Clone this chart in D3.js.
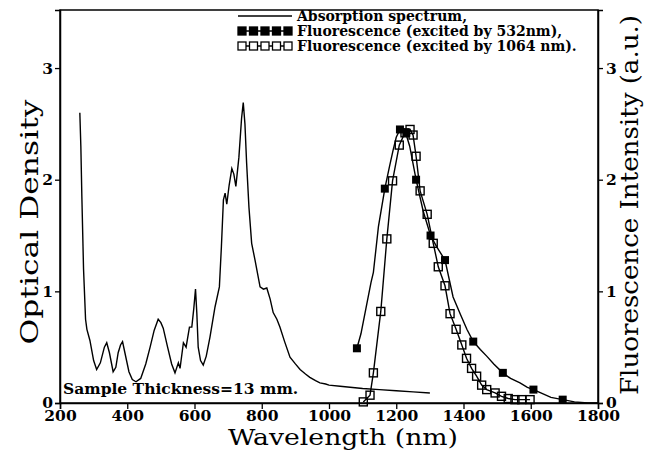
<!DOCTYPE html>
<html>
<head>
<meta charset="utf-8">
<script src="https://cdnjs.cloudflare.com/ajax/libs/d3/7.8.5/d3.min.js"></script>
<style>
body { margin: 0; background: #fff; }
</style>
</head>
<body>
<div id="chart"></div>
<script>
// absorption spectrum: [wavelength nm, optical density]
var absorption = [
  [259, 2.60], [262, 2.30], [265, 1.85], [270, 1.20], [276, 0.75], [280, 0.66],
  [289, 0.56], [300, 0.38], [309, 0.30], [320, 0.36], [332, 0.50], [339, 0.54],
  [347, 0.45], [358, 0.28], [366, 0.32], [373, 0.45], [380, 0.52], [386, 0.55],
  [393, 0.45], [405, 0.28], [415, 0.21], [426, 0.19], [440, 0.22], [455, 0.35],
  [468, 0.50], [480, 0.65], [492, 0.75], [500, 0.72], [507, 0.67], [520, 0.50],
  [532, 0.35], [542, 0.27], [552, 0.36], [557, 0.31], [567, 0.54], [575, 0.50],
  [585, 0.68], [592, 0.68], [598, 0.85], [603, 1.02], [607, 0.80], [611, 0.50],
  [618, 0.38], [626, 0.34], [635, 0.42], [646, 0.59], [661, 0.86], [674, 1.04],
  [680, 1.40], [686, 1.82], [691, 1.88], [696, 1.78], [703, 1.95], [711, 2.10],
  [717, 2.05], [723, 1.94], [732, 2.20], [740, 2.55], [745, 2.69], [750, 2.50],
  [755, 2.15], [762, 1.75], [770, 1.43], [780, 1.28], [795, 1.04], [805, 1.02],
  [815, 1.03], [825, 0.93], [834, 0.81], [845, 0.75], [854, 0.68], [868, 0.55],
  [884, 0.41], [900, 0.35], [914, 0.30], [930, 0.26], [943, 0.23], [960, 0.20],
  [973, 0.18], [990, 0.17], [1000, 0.16], [1033, 0.15], [1100, 0.13], [1150, 0.12],
  [1200, 0.11], [1250, 0.10], [1300, 0.09]
];

// fluorescence excited by 532 nm: measured curve and the filled markers on it
var fl532 = [
  [1083, 0.49], [1095, 0.62], [1110, 0.85], [1125, 1.08], [1132, 1.17], [1147, 1.58],
  [1166, 1.92], [1180, 2.12], [1191, 2.27], [1200, 2.38], [1211, 2.45], [1225, 2.45],
  [1240, 2.30], [1259, 2.00], [1280, 1.72], [1302, 1.50], [1320, 1.40], [1345, 1.28],
  [1369, 0.95], [1390, 0.80], [1410, 0.66], [1429, 0.55], [1450, 0.48], [1469, 0.42],
  [1490, 0.35], [1517, 0.27], [1540, 0.22], [1568, 0.18], [1590, 0.14], [1608, 0.12],
  [1630, 0.09], [1660, 0.05], [1695, 0.03], [1730, 0.01], [1770, 0.00], [1800, 0.00]
];
var fl532Marks = [
  [1083, 0.49], [1166, 1.92], [1211, 2.45], [1230, 2.42], [1259, 2.00], [1302, 1.50],
  [1345, 1.28], [1429, 0.55], [1517, 0.27], [1608, 0.12], [1695, 0.03]
];

// fluorescence excited by 1064 nm (open markers on every point)
var fl1064 = [
  [1102, 0.01], [1122, 0.07], [1132, 0.27], [1154, 0.82], [1172, 1.47], [1189, 1.99],
  [1209, 2.31], [1226, 2.42], [1241, 2.45], [1250, 2.40], [1259, 2.21], [1271, 1.90],
  [1292, 1.69], [1310, 1.43], [1325, 1.22], [1345, 1.05], [1360, 0.80], [1378, 0.66],
  [1395, 0.52], [1409, 0.40], [1424, 0.31], [1439, 0.24], [1454, 0.16], [1469, 0.12],
  [1494, 0.09], [1513, 0.06], [1533, 0.04], [1553, 0.03], [1573, 0.03], [1598, 0.03]
];

var xTicks = [200, 400, 600, 800, 1000, 1200, 1400, 1600, 1800];
var yTicks = [0, 1, 2, 3];
var legendLabels = [
  "Absorption spectrum,",
  "Fluorescence (excited by 532nm),",
  "Fluorescence (excited by 1064 nm)."
];
var note = "Sample Thickness=13 mm.";

function drawChart() {
  var w = 660;
  var h = 451;
  var pLeft = 60, pRight = 598, pTop = 10, pBottom = 403;
  var serif = "'DejaVu Serif', serif";

  var svg = d3.select("#chart")
    .append("svg")
    .attr("width", w)
    .attr("height", h);

  var xScale = d3.scaleLinear().domain([200, 1800]).range([pLeft, pRight]);
  var yLeft = d3.scaleLinear().domain([0, 3.52]).range([pBottom, pTop]);
  var yRight = d3.scaleLinear().domain([0, 3.52]).range([pBottom, pTop]);

  // frame
  svg.append("rect")
    .attr("x", pLeft).attr("y", pTop)
    .attr("width", pRight - pLeft).attr("height", pBottom - pTop)
    .attr("fill", "none").attr("stroke", "#000").attr("stroke-width", 1.5);

  var intFmt = d3.format("d");
  var xAxis = svg.append("g")
    .attr("transform", "translate(0," + pBottom + ")")
    .call(d3.axisBottom(xScale).tickValues(xTicks).tickSize(6).tickPadding(1).tickFormat(intFmt));
  var lAxis = svg.append("g")
    .attr("transform", "translate(" + pLeft + ",0)")
    .call(d3.axisLeft(yLeft).tickValues(yTicks).tickSize(5).tickPadding(2).tickFormat(intFmt));
  var rAxis = svg.append("g")
    .attr("transform", "translate(" + pRight + ",0)")
    .call(d3.axisRight(yRight).tickValues(yTicks).tickSize(5).tickPadding(3).tickFormat(intFmt));

  [xAxis, lAxis, rAxis].forEach(function(g) {
    g.select(".domain").attr("stroke-width", 1.5);
    g.selectAll(".tick line").attr("stroke-width", 1.3);
    g.selectAll("text")
      .attr("font-family", serif)
      .attr("font-weight", "bold")
      .attr("font-size", "15.5px")
      .attr("fill", "#000");
  });

  // axis titles
  svg.append("text")
    .attr("x", 343).attr("y", 445)
    .attr("text-anchor", "middle")
    .attr("font-family", serif).attr("font-size", "23px")
    .attr("textLength", 230).attr("lengthAdjust", "spacingAndGlyphs")
    .text("Wavelength (nm)");
  svg.append("text")
    .attr("transform", "translate(38,222) rotate(-90)")
    .attr("text-anchor", "middle")
    .attr("font-family", serif).attr("font-size", "25px")
    .attr("textLength", 245).attr("lengthAdjust", "spacingAndGlyphs")
    .text("Optical Density");
  svg.append("text")
    .attr("transform", "translate(638,205) rotate(-90)")
    .attr("text-anchor", "middle")
    .attr("font-family", serif).attr("font-size", "24px")
    .attr("textLength", 380).attr("lengthAdjust", "spacingAndGlyphs")
    .text("Fluorescence Intensity (a.u.)");

  var lineLeft = d3.line()
    .x(function(d) { return xScale(d[0]); })
    .y(function(d) { return yLeft(d[1]); });
  var lineRight = d3.line()
    .x(function(d) { return xScale(d[0]); })
    .y(function(d) { return yRight(d[1]); });

  svg.append("path").datum(absorption)
    .attr("d", lineLeft)
    .attr("fill", "none").attr("stroke", "#000").attr("stroke-width", 1.4);

  svg.append("path").datum(fl532)
    .attr("d", lineRight)
    .attr("fill", "none").attr("stroke", "#000").attr("stroke-width", 1.4);

  svg.append("path").datum(fl1064)
    .attr("d", lineRight)
    .attr("fill", "none").attr("stroke", "#000").attr("stroke-width", 1.4);

  var ms = 8;
  svg.selectAll("rect.filled")
    .data(fl532Marks)
    .enter()
    .append("rect")
    .attr("class", "filled")
    .attr("x", function(d) { return xScale(d[0]) - ms / 2; })
    .attr("y", function(d) { return yRight(d[1]) - ms / 2; })
    .attr("width", ms).attr("height", ms)
    .attr("fill", "#000");

  svg.selectAll("rect.open")
    .data(fl1064)
    .enter()
    .append("rect")
    .attr("class", "open")
    .attr("x", function(d) { return xScale(d[0]) - ms / 2; })
    .attr("y", function(d) { return yRight(d[1]) - ms / 2; })
    .attr("width", ms).attr("height", ms)
    .attr("fill", "none").attr("stroke", "#000").attr("stroke-width", 1.4);

  // legend
  var lx0 = 238, lx1 = 292, ly = 16, lstep = 15;
  var legend = svg.append("g");
  legend.selectAll("text")
    .data(legendLabels)
    .enter()
    .append("text")
    .attr("x", lx1 + 5)
    .attr("y", function(d, i) { return ly + i * lstep + 5; })
    .attr("font-family", serif).attr("font-weight", "bold").attr("font-size", "14px")
    .text(function(d) { return d; });

  legend.append("line")
    .attr("x1", lx0).attr("x2", lx1).attr("y1", ly).attr("y2", ly)
    .attr("stroke", "#000").attr("stroke-width", 1.4);

  var sampleX = d3.range(5).map(function(i) { return lx0 + 4 + i * 11.5; });
  [1, 2].forEach(function(row) {
    var yy = ly + row * lstep;
    legend.append("line")
      .attr("x1", lx0).attr("x2", lx1).attr("y1", yy).attr("y2", yy)
      .attr("stroke", "#000").attr("stroke-width", 1.4);
    legend.selectAll("rect.s" + row)
      .data(sampleX)
      .enter()
      .append("rect")
      .attr("class", "s" + row)
      .attr("x", function(d) { return d - ms / 2; })
      .attr("y", yy - ms / 2)
      .attr("width", ms).attr("height", ms)
      .attr("fill", row == 1 ? "#000" : "#fff")
      .attr("stroke", "#000").attr("stroke-width", 1.3);
  });

  // sample note
  svg.append("text")
    .attr("x", pLeft + 3).attr("y", 394)
    .attr("font-family", serif).attr("font-weight", "bold").attr("font-size", "15.5px")
    .text(note);
}

drawChart();
</script>
</body>
</html>
